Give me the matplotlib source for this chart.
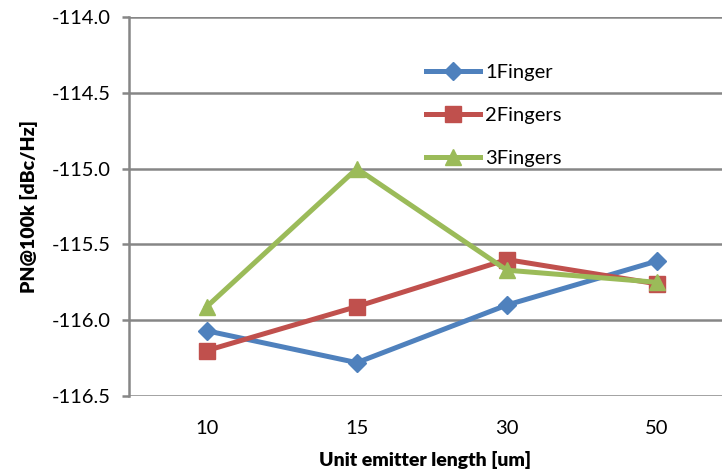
import matplotlib
matplotlib.use('Agg')
import matplotlib.pyplot as plt
from matplotlib.lines import Line2D

plt.rcParams['font.family'] = ['Lato', 'DejaVu Sans']

lengths = ['10', '15', '30', '50']
one_finger = [-116.07, -116.28, -115.90, -115.61]
two_fingers = [-116.20, -115.91, -115.60, -115.76]
three_fingers = [-115.91, -115.00, -115.67, -115.75]
series_names = ['1Finger', '2Fingers', '3Fingers']

colors = ['#4F81BD', '#C0504D', '#9BBB59']
markers = ['D', 's', '^']
msizes = [9, 11, 12]

fig = plt.figure(figsize=(7.24, 4.72), dpi=100)
ax = fig.add_axes([0.178, 0.161, 0.819, 0.803])

x = range(len(lengths))
for i, vals in enumerate([one_finger, two_fingers, three_fingers]):
    ax.plot(x, vals, color=colors[i], lw=3.6, marker=markers[i],
            ms=msizes[i], mec=colors[i], mfc=colors[i], zorder=3)

ax.set_ylim(-116.5, -114.0)
ax.set_yticks([-116.5, -116.0, -115.5, -115.0, -114.5, -114.0])
ax.set_yticklabels(['%.1f' % v for v in ax.get_yticks()])
ax.set_xlim(-0.52, 3.433)
ax.set_xticks(list(x))
ax.set_xticklabels(lengths)

ax.grid(True, axis='y', color='#868686', lw=1.8)
ax.set_axisbelow(True)
for s in ['top', 'right', 'bottom']:
    ax.spines[s].set_visible(False)
ax.spines['left'].set_color('#868686')
ax.spines['left'].set_linewidth(1.8)
ax.tick_params(axis='y', colors='#868686', length=5, width=1.8,
               labelcolor='black', labelsize=14.5, pad=8)
ax.tick_params(axis='x', length=0, labelsize=14.5, pad=17)

ax.set_xlabel('Unit emitter length [um]', fontsize=14, fontweight='heavy', labelpad=10)
ax.set_ylabel('PN@100k [dBc/Hz]', fontsize=14, fontweight='heavy', labelpad=10)

handles = [Line2D([], [], color=colors[i], lw=3.6, marker=markers[i],
                  ms=msizes[i], mec=colors[i]) for i in range(3)]
ax.legend(handles, series_names, loc='upper left', bbox_to_anchor=(0.47, 0.925),
          frameon=False, fontsize=14.5, handlelength=2.7, labelspacing=1.3,
          handletextpad=0.25)

fig.savefig('out.png', dpi=100)
